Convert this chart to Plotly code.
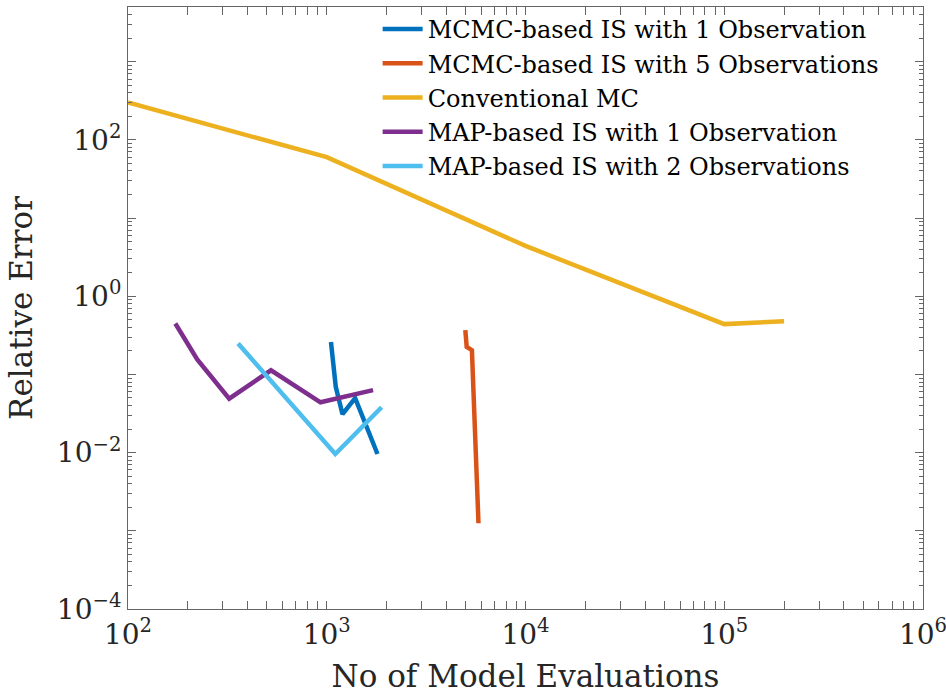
import numpy as np
import plotly.graph_objects as go

# Relative error vs. number of model evaluations for each estimator
mcmc1_x = [1050, 1110, 1200, 1390, 1800]
mcmc1_y = [0.26, 0.0695, 0.031, 0.0498, 0.0096]

mcmc5_x = [4980, 5060, 5375, 5800]
mcmc5_y = [0.368, 0.225, 0.204, 0.00125]

mc_x = [1e2, 1e3, 1e4, 1e5, 2e5]
mc_y = [300, 60, 4.4, 0.44, 0.48]

map1_x = [173, 223, 323, 524, 930, 1710]
map1_y = [0.448, 0.155, 0.049, 0.113, 0.044, 0.063]

map2_x = [358, 1104, 1888]
map2_y = [0.249, 0.0096, 0.038]

series = [
    ("MCMC-based IS with 1 Observation", mcmc1_x, mcmc1_y, "#0072BD"),
    ("MCMC-based IS with 5 Observations", mcmc5_x, mcmc5_y, "#D95319"),
    ("Conventional MC", mc_x, mc_y, "#EDB120"),
    ("MAP-based IS with 1 Observation", map1_x, map1_y, "#7E2F8E"),
    ("MAP-based IS with 2 Observations", map2_x, map2_y, "#4DBEEE"),
]

x_decades = [2, 3, 4, 5, 6]
y_labelled = [-4, -2, 0, 2]
y_unlabelled = [-3, -1, 1, 3]
X_RANGE = [2, 6]
Y_RANGE = [-4, np.log10(5000)]


def power_label(e):
    s = str(e).replace("-", "\u2212")
    return f"10<sup>{s}</sup>"


def minor_vals(lo, hi):
    vals = []
    for d in range(lo, hi + 1):
        for k in range(2, 10):
            vals.append(k * 10.0 ** d)
    return vals


FONT = "DejaVu Serif"
AXIS_COL = "#666666"
TEXT_COL = "#262626"

fig = go.Figure()
for name, xs, ys, col in series:
    fig.add_trace(go.Scatter(x=xs, y=ys, mode="lines", name=name,
                             line=dict(color=col, width=4.5)))

# empty trace that carries the overlaid y axis used for the unlabelled decade ticks
fig.add_trace(go.Scatter(x=[None], y=[None], yaxis="y2", showlegend=False,
                         hoverinfo="skip", mode="lines"))

common = dict(
    type="log", showgrid=False, zeroline=False,
    showline=True, linecolor=AXIS_COL, linewidth=1, mirror="allticks",
    ticks="inside", ticklen=8, tickwidth=1, tickcolor=AXIS_COL,
    tickfont=dict(family=FONT, size=28, color=TEXT_COL),
    ticklabeloverflow="allow", automargin=False,
)

fig.update_layout(
    font=dict(family=FONT),
    xaxis=dict(
        **common,
        range=X_RANGE,
        tickmode="array",
        tickvals=[10.0 ** d for d in x_decades],
        ticktext=[power_label(d) for d in x_decades],
        minor=dict(tickmode="array", tickvals=minor_vals(2, 5), ticks="inside",
                   ticklen=4, tickwidth=1, tickcolor=AXIS_COL),
        title=dict(text="No of Model Evaluations",
                   font=dict(family=FONT, size=31, color=TEXT_COL)),
    ),
    yaxis=dict(
        **common,
        range=Y_RANGE,
        tickmode="array",
        tickvals=[10.0 ** d for d in y_labelled],
        ticktext=[power_label(d) for d in y_labelled],
        minor=dict(tickmode="array", tickvals=minor_vals(-4, 3), ticks="inside",
                   ticklen=4, tickwidth=1, tickcolor=AXIS_COL),
        title=dict(text="Relative Error",
                   font=dict(family=FONT, size=31, color=TEXT_COL)),
    ),
    yaxis2=dict(
        type="log", overlaying="y", side="left", range=Y_RANGE,
        showgrid=False, zeroline=False, showline=False,
        mirror="allticks", ticks="inside", ticklen=8, tickwidth=1,
        tickcolor=AXIS_COL, showticklabels=False, automargin=False,
        tickmode="array", tickvals=[10.0 ** d for d in y_unlabelled],
    ),
)

fig.update_layout(
    width=946, height=695,
    margin=dict(l=128, r=23, t=7, b=86),
    paper_bgcolor="white", plot_bgcolor="white",
    showlegend=True,
    legend=dict(x=0.314, y=1.0, xanchor="left", yanchor="top",
                bgcolor="rgba(0,0,0,0)", borderwidth=0,
                font=dict(family=FONT, size=24, color="#000000"),
                itemwidth=40, tracegroupgap=0),
)

fig.write_html("out.html")
